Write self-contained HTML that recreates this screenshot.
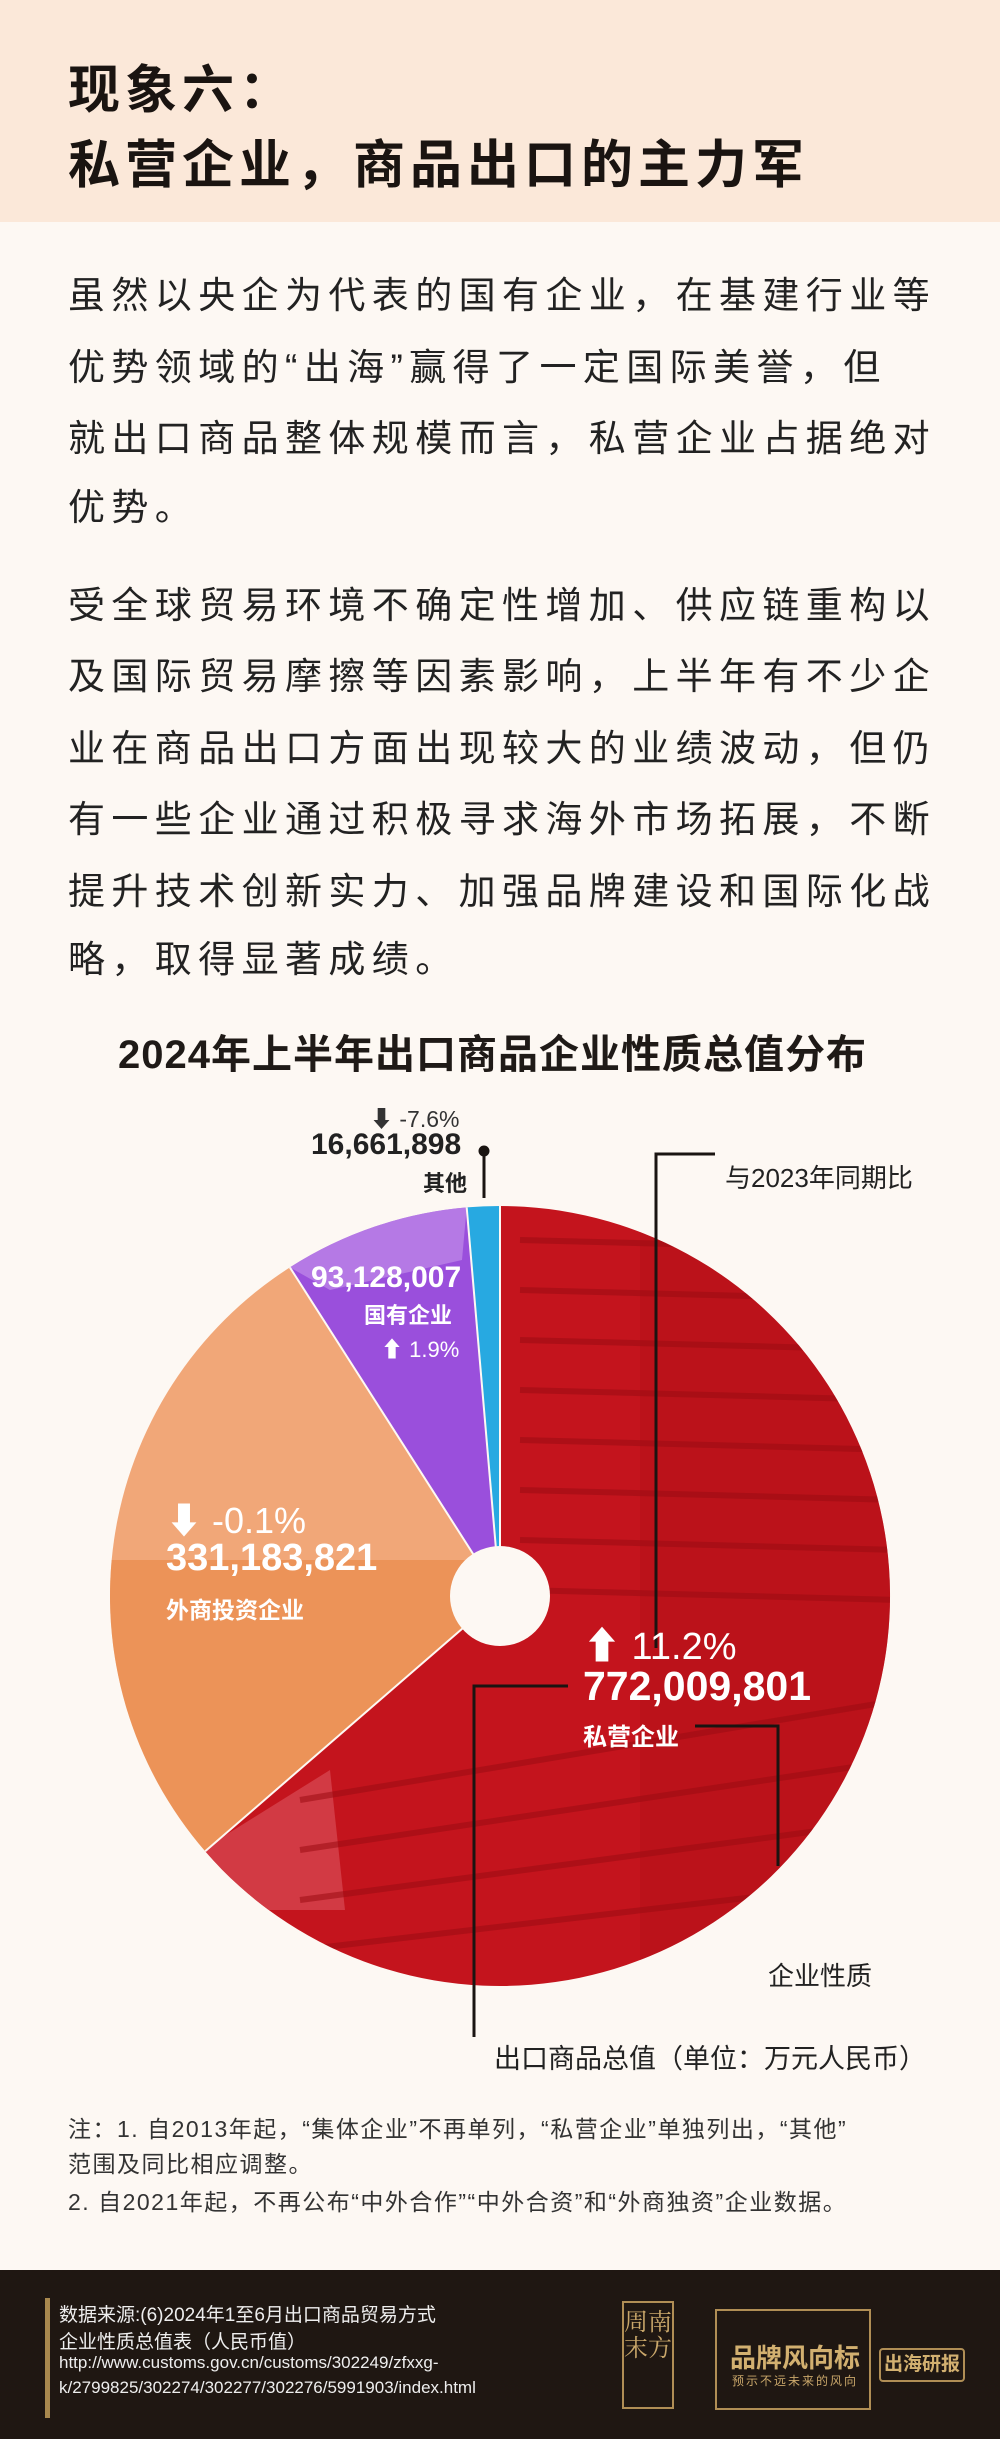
<!DOCTYPE html>
<html><head><meta charset="utf-8"><style>
*{margin:0;padding:0;box-sizing:border-box}
body{width:1000px;height:2439px;background:#fdf8f3;font-family:"Liberation Sans","Noto Sans CJK SC",sans-serif;position:relative;overflow:hidden;color:#1f1a17}
.hdr{position:absolute;left:0;top:0;width:1000px;height:222px;background:#fbe8d9}
.h1{position:absolute;left:68px;font-size:52px;font-weight:bold;letter-spacing:5px;color:#1a1411}
.p{position:absolute;left:68px;font-size:37px;letter-spacing:6.4px;color:#222;white-space:nowrap}
.t{position:absolute;white-space:nowrap}
.note{position:absolute;left:68px;font-size:23px;letter-spacing:1.5px;color:#333;white-space:nowrap}
.foot{position:absolute;left:0;top:2270px;width:1000px;height:169px;background:#1f1712}
.ft{position:absolute;left:59px;font-size:19px;color:#eee;white-space:nowrap}
</style></head><body>
<div class="hdr"></div>
<div class="h1" style="top:48px">现象六：</div>
<div class="h1" style="top:123px">私营企业，商品出口的主力军</div>

<div class="p" style="top:265px">虽然以央企为代表的国有企业，在基建行业等</div>
<div class="p" style="top:337px">优势领域的“出海”赢得了一定国际美誉，但</div>
<div class="p" style="top:408px">就出口商品整体规模而言，私营企业占据绝对</div>
<div class="p" style="top:477px">优势。</div>
<div class="p" style="top:575px">受全球贸易环境不确定性增加、供应链重构以</div>
<div class="p" style="top:646px">及国际贸易摩擦等因素影响，上半年有不少企</div>
<div class="p" style="top:718px">业在商品出口方面出现较大的业绩波动，但仍</div>
<div class="p" style="top:789px">有一些企业通过积极寻求海外市场拓展，不断</div>
<div class="p" style="top:861px">提升技术创新实力、加强品牌建设和国际化战</div>
<div class="p" style="top:929px">略，取得显著成绩。</div>

<div class="t" style="left:118px;top:1022px;font-size:40px;font-weight:bold;letter-spacing:1px">2024年上半年出口商品企业性质总值分布</div>

<svg style="position:absolute;left:0;top:0" width="1000" height="2439">
<defs>
<clipPath id="cr"><path d="M500,1596 L500,1206 A390,390 0 1 1 205.2,1851.3 Z"/></clipPath>
<clipPath id="co"><path d="M500,1596 L205.2,1851.3 A390,390 0 0 1 289.9,1267.4 Z"/></clipPath>
</defs>
<path d="M500,1596 L500,1206 A390,390 0 1 1 205.2,1851.3 Z" fill="#c4141d"/>
<g clip-path="url(#cr)">
<path d="M200,1851 L330,1770 L345,1910 L230,1910Z" fill="#d23a44"/>
<path d="M640,1190 L900,1190 L900,1990 L640,1990Z" fill="#b20f17" opacity="0.5"/>
<g stroke="#9c0c13" stroke-width="6" opacity="0.55">
<line x1="520" y1="1240" x2="900" y2="1250"/><line x1="520" y1="1290" x2="900" y2="1300"/>
<line x1="520" y1="1340" x2="900" y2="1350"/><line x1="520" y1="1390" x2="900" y2="1400"/>
<line x1="520" y1="1440" x2="900" y2="1450"/><line x1="520" y1="1490" x2="900" y2="1500"/>
<line x1="520" y1="1540" x2="900" y2="1550"/><line x1="520" y1="1590" x2="900" y2="1600"/>
<line x1="300" y1="1800" x2="900" y2="1700"/><line x1="300" y1="1850" x2="900" y2="1760"/>
<line x1="300" y1="1900" x2="900" y2="1820"/><line x1="300" y1="1950" x2="900" y2="1880"/>
</g>
</g>
<path d="M500,1596 L205.2,1851.3 A390,390 0 0 1 289.9,1267.4 Z" fill="#f1a778"/>
<g clip-path="url(#co)"><path d="M100,1560 L470,1560 L480,1620 L200,1860 L100,1860Z" fill="#e8843e" opacity="0.55"/></g>
<path d="M500,1596 L289.9,1267.4 A390,390 0 0 1 466.7,1207.4 Z" fill="#9a4fdc"/>
<path d="M289.9,1267.4 A390,390 0 0 1 466.7,1207.4 L462,1260 L330,1290Z" fill="#c08ce8" opacity="0.7"/>
<path d="M500,1596 L466.7,1207.4 A390,390 0 0 1 500,1206 Z" fill="#27a9e1"/>
<g stroke="#fdf8f3" stroke-width="2" fill="none">
<line x1="500" y1="1596" x2="500" y2="1206"/><line x1="500" y1="1596" x2="205.2" y2="1851.3"/>
<line x1="500" y1="1596" x2="289.9" y2="1267.4"/><line x1="500" y1="1596" x2="466.7" y2="1207.4"/>
</g>
<circle cx="500" cy="1596" r="50" fill="#fdf8f3"/>
<g stroke="#1a1411" stroke-width="3" fill="none">
<circle cx="484" cy="1151" r="4" fill="#1a1411"/>
<line x1="484" y1="1151" x2="484" y2="1198"/>
<polyline points="715,1154 656,1154 656,1648"/>
<polyline points="695,1726 778,1726 778,1866"/>
<polyline points="568,1686 474,1686 474,2037"/>
</g>
</svg>

<div class="t" style="left:370px;top:1100px;font-size:23px;color:#333">⬇ -7.6%</div>
<div class="t" style="left:311px;top:1128px;font-size:30px;font-weight:bold;color:#222">16,661,898</div>
<div class="t" style="left:423px;top:1166px;font-size:22px;font-weight:bold;color:#222">其他</div>
<div class="t" style="left:725px;top:1158px;font-size:26px;color:#222">与2023年同期比</div>
<div class="t" style="left:311px;top:1261px;font-size:30px;font-weight:bold;color:#fff">93,128,007</div>
<div class="t" style="left:364px;top:1298px;font-size:22px;font-weight:bold;color:#fff">国有企业</div>
<div class="t" style="left:381px;top:1332px;font-size:22px;color:#fff">⬆ 1.9%</div>
<div class="t" style="left:166px;top:1492px;font-size:36px;color:#fff">⬇ -0.1%</div>
<div class="t" style="left:166px;top:1537px;font-size:38px;font-weight:bold;color:#fff">331,183,821</div>
<div class="t" style="left:166px;top:1591px;font-size:23px;font-weight:bold;color:#fff">外商投资企业</div>
<div class="t" style="left:583px;top:1615px;font-size:38px;color:#fff">⬆ 11.2%</div>
<div class="t" style="left:583px;top:1663px;font-size:41px;font-weight:bold;color:#fff">772,009,801</div>
<div class="t" style="left:583px;top:1717px;font-size:24px;font-weight:bold;color:#fff">私营企业</div>
<div class="t" style="left:768px;top:1956px;font-size:26px;color:#222">企业性质</div>
<div class="t" style="left:494px;top:2037px;font-size:27px;color:#222">出口商品总值（单位：万元人民币）</div>

<div class="note" style="top:2110px">注：1. 自2013年起，“集体企业”不再单列，“私营企业”单独列出，“其他”</div>
<div class="note" style="top:2145px">范围及同比相应调整。</div>
<div class="note" style="top:2183px">2. 自2021年起，不再公布“中外合作”“中外合资”和“外商独资”企业数据。</div>

<div class="foot"></div>
<div style="position:absolute;left:45px;top:2298px;width:5px;height:120px;background:#a8884e"></div>
<div class="ft" style="top:2300px">数据来源:(6)2024年1至6月出口商品贸易方式</div>
<div class="ft" style="top:2327px">企业性质总值表（人民币值）</div>
<div class="ft" style="top:2353px;font-size:17px">http://www.customs.gov.cn/customs/302249/zfxxg-</div>
<div class="ft" style="top:2378px;font-size:17px">k/2799825/302274/302277/302276/5991903/index.html</div>
<div style="position:absolute;left:622px;top:2301px;width:52px;height:108px;border:2px solid #b08e55;color:#c9a76a;font-size:24px;line-height:26px;text-align:center;padding-top:4px;font-family:'Noto Serif CJK SC',serif">周南<br>末方</div>
<div style="position:absolute;left:715px;top:2309px;width:156px;height:101px;border:2px solid #b08e55"></div>
<div class="t" style="left:730px;top:2338px;font-size:26px;font-weight:bold;color:#d2b070">品牌风向标</div>
<div class="t" style="left:732px;top:2372px;font-size:12px;color:#c9a76a;letter-spacing:2px">预示不远未来的风向</div>
<div style="position:absolute;left:879px;top:2348px;width:86px;height:34px;border:2px solid #b08e55;border-radius:4px;color:#d2b070;font-size:19px;font-weight:bold;text-align:center;line-height:30px">出海研报</div>
</body></html>
